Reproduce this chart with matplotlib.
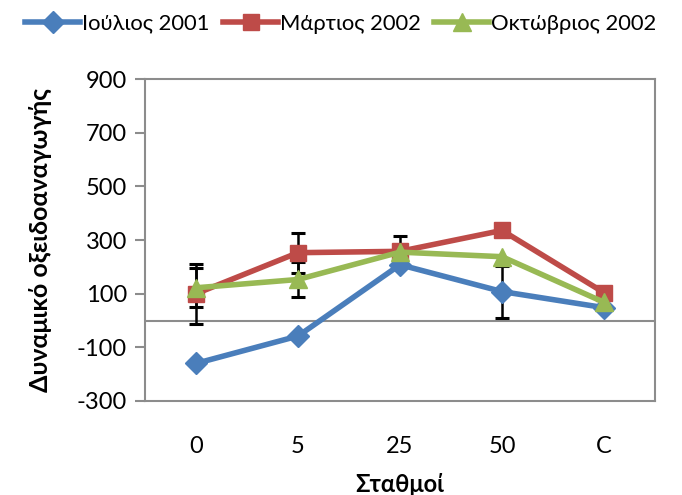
import matplotlib.pyplot as plt
import numpy as np

plt.rcParams['font.family'] = ['Lato', 'Noto Sans', 'DejaVu Sans']
plt.rcParams['axes.unicode_minus'] = False

# Σταθμοί δειγματοληψίας
stations = ["0", "5", "25", "50", "C"]

# Δυναμικό οξειδοαναγωγής ανά περίοδο
jul_2001 = [-160, -58, 208, 108, 48]
mar_2002 = [100, 253, 258, 336, 104]
oct_2002 = [122, 153, 255, 238, 68]

# Τυπικά σφάλματα (NaN όπου δεν υπάρχουν)
jul_err = [np.nan, np.nan, np.nan, 97, np.nan]
mar_err = [112, 75, 58, np.nan, np.nan]
oct_err = [73, 67, np.nan, np.nan, np.nan]

series = [
    ("Ιούλιος 2001", jul_2001, jul_err, "#4A7EBB", "D", 11),
    ("Μάρτιος 2002", mar_2002, mar_err, "#BE4B48", "s", 12),
    ("Οκτώβριος 2002", oct_2002, oct_err, "#98B954", "^", 13),
]

fig = plt.figure(figsize=(6.82, 4.95), dpi=100)
ax = fig.add_axes([0.2126, 0.190, 0.7478, 0.650])

x = np.arange(len(stations))

for label, vals, err, color, marker, ms in series:
    ax.errorbar(x, vals, yerr=err, fmt="none", ecolor="black",
                elinewidth=1.8, capsize=5, capthick=2.2, zorder=2)
    ax.plot(x, vals, color=color, lw=4, marker=marker, ms=ms,
            label=label, zorder=3)

ax.axhline(0, color="#8c8c8c", lw=1.5, zorder=1)

ax.set_xlim(-0.5, len(stations) - 0.5)
ax.set_ylim(-300, 900)
ax.set_yticks(np.arange(-300, 901, 200))
ax.set_xticks(x)
ax.set_xticklabels(stations)

for side in ["left", "right", "top", "bottom"]:
    ax.spines[side].set_color("#8c8c8c")
    ax.spines[side].set_linewidth(1.5)

ax.tick_params(axis="y", direction="out", length=7, width=1.5,
               color="#8c8c8c", labelsize=17, pad=6)
ax.tick_params(axis="x", length=0, labelsize=17, pad=25)

ax.set_xlabel("Σταθμοί", fontsize=17, fontweight="bold", labelpad=12)
ax.set_ylabel("Δυναμικό οξειδοαναγωγής", fontsize=18, fontweight="bold",
              labelpad=18)

fig.legend(loc="upper center", bbox_to_anchor=(0.5, 1.012), ncol=3,
           frameon=False, fontsize=15.8, handlelength=2.5,
           handletextpad=0.1, columnspacing=0.6)

fig.savefig("out.png", dpi=100)
